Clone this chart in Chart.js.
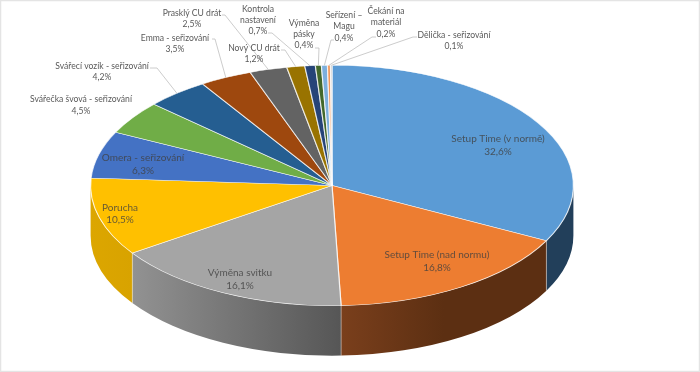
<!DOCTYPE html>
<html>
<head>
<meta charset="utf-8">
<title>Setup Time</title>
<script src="https://cdn.jsdelivr.net/npm/chart.js@4"></script>
<style>
  html, body { margin: 0; padding: 0; background: #fff; }
  canvas { display: block; filter: blur(0.3px); }
</style>
</head>
<body>
<canvas id="pieChart" width="700" height="372"></canvas>
<script>
const categories = [
  ["Setup Time (v normě)"],
  ["Setup Time (nad normu)"],
  ["Výměna svitku"],
  ["Porucha"],
  ["Omera - seřizování"],
  ["Svářečka švová - seřizování"],
  ["Svářecí vozík - seřizování"],
  ["Emma - seřizování"],
  ["Prasklý CU drát"],
  ["Nový CU drát"],
  ["Kontrola", "nastavení"],
  ["Výměna", "pásky"],
  ["Seřízení –", "Magu"],
  ["Čekání na", "materiál"],
  ["Dělička - seřizování"]
];
const shares = [32.6, 16.8, 16.1, 10.5, 6.3, 4.5, 4.2, 3.5, 2.5, 1.2, 0.7, 0.4, 0.4, 0.2, 0.1];

const sliceColors = [
  "#5B9BD5", "#ED7D31", "#A5A5A5", "#FFC000", "#4472C4",
  "#70AD47", "#255E91", "#9E480E", "#636363", "#997300",
  "#264478", "#43682B", "#7CAFDD", "#F1975A", "#B7B7B7"
];

// side wall colours, left to right, only the four front slices show a wall
const wallColors = {
  0: ["#223F5A", "#223F5A"],
  1: ["#7A3F1C", "#5C2F12", "#5C2F12"],
  2: ["#929292", "#565656"],
  3: ["#DCA600", "#D8A300"]
};

// centre x and first line y of each label
const labelX = [498, 437, 240, 120, 143, 81, 102, 175, 192, 254, 258, 304, 344, 386, 454];
const labelY = [139, 255, 273, 208, 158, 99.5, 66, 38, 13, 48, 9, 23, 15, 11, 35];
const lineGap = [13, 13, 13, 12, 13, 11.5, 11, 11, 11, 11, 11, 11, 11.5, 11.5, 11];

// leader line start and elbow, null where the label has no leader
const leaders = [
  null, null, null, null, null, null,
  [150, 68, 157, 68],
  [212, 39, 215, 39],
  [222, 15, 225, 15],
  [281, 50, 285, 50],
  [268, 33, 272, 33],
  [315, 48, 319, 48],
  [334, 40, 331, 40],
  [376, 37, 372, 37],
  [417, 37, 413, 37]
];

const wallDepth = 50;

function percentText(value) {
  return value.toFixed(1).replace(".", ",") + "%";
}

function stretchOf(chart) {
  return chart.chartArea.width / chart.chartArea.height;
}

// Wall under the front half of the pie, built from the arc angles
function drawWalls(chart) {
  const ctx = chart.ctx;
  const stretch = stretchOf(chart);
  chart.getDatasetMeta(0).data.forEach((arc, i) => {
    const from = Math.max(arc.startAngle, 0);
    const to = Math.min(arc.endAngle, Math.PI);
    if (!wallColors[i] || from >= to) return;
    const rx = arc.outerRadius * stretch;
    const ry = arc.outerRadius;
    const x0 = arc.x + rx * Math.cos(to);
    const x1 = arc.x + rx * Math.cos(from);
    const grad = ctx.createLinearGradient(x0, 0, x1, 0);
    const stops = wallColors[i];
    stops.forEach((c, n) => grad.addColorStop(n / (stops.length - 1), c));

    ctx.beginPath();
    ctx.ellipse(arc.x, arc.y, rx, ry, 0, from, to);
    ctx.ellipse(arc.x, arc.y + wallDepth, rx, ry, 0, to, from, true);
    ctx.closePath();
    ctx.fillStyle = grad;
    ctx.fill();

    // light seam where the slice starts
    if (from > 0) {
      const sx = arc.x + rx * Math.cos(from);
      const sy = arc.y + ry * Math.sin(from);
      ctx.beginPath();
      ctx.moveTo(sx, sy);
      ctx.lineTo(sx, sy + wallDepth);
      ctx.strokeStyle = "rgba(255,255,255,0.4)";
      ctx.lineWidth = 1;
      ctx.stroke();
    }
  });
}

function drawLabels(chart) {
  const ctx = chart.ctx;
  const stretch = stretchOf(chart);
  const arcs = chart.getDatasetMeta(0).data;

  ctx.strokeStyle = "#BFBFBF";
  ctx.lineWidth = 0.8;
  leaders.forEach((leader, i) => {
    if (!leader) return;
    const arc = arcs[i];
    const mid = (arc.startAngle + arc.endAngle) / 2;
    ctx.beginPath();
    ctx.moveTo(leader[0], leader[1]);
    ctx.lineTo(leader[2], leader[3]);
    ctx.lineTo(arc.x + arc.outerRadius * stretch * Math.cos(mid), arc.y + arc.outerRadius * Math.sin(mid));
    ctx.stroke();
  });

  ctx.textAlign = "center";
  ctx.textBaseline = "middle";
  categories.forEach((lines, i) => {
    const inside = i < 5;
    ctx.font = inside ? "10px Lato" : "8.6px Lato";
    ctx.fillStyle = inside ? "rgba(64,64,64,0.8)" : "#595959";
    const all = lines.concat(percentText(shares[i]));
    all.forEach((line, n) => ctx.fillText(line, labelX[i], labelY[i] + n * lineGap[i]));
  });
}

// Squashes the round pie into the flat ellipse and adds the 3D wall
const flatPie = {
  id: "flatPie",
  beforeDatasetsDraw(chart) {
    drawWalls(chart);
    const ctx = chart.ctx;
    const cx = chart.getDatasetMeta(0).data[0].x;
    ctx.save();
    ctx.translate(cx, 0);
    ctx.scale(stretchOf(chart), 1);
    ctx.translate(-cx, 0);
  },
  afterDatasetsDraw(chart) {
    chart.ctx.restore();
    drawLabels(chart);
    const ctx = chart.ctx;
    ctx.strokeStyle = "#E4E4E4";
    ctx.lineWidth = 1.5;
    ctx.strokeRect(0.5, 0.5, chart.width - 1, chart.height - 1);
  }
};

new Chart(document.getElementById("pieChart"), {
  type: "pie",
  data: {
    labels: categories,
    datasets: [{
      data: shares,
      backgroundColor: sliceColors,
      borderColor: "rgba(255,255,255,0.75)",
      borderWidth: 0.6,
      clip: false
    }]
  },
  options: {
    responsive: false,
    animation: false,
    events: [],
    layout: { padding: { left: 90, right: 126, top: 65, bottom: 66 } },
    plugins: { legend: { display: false }, tooltip: { enabled: false } }
  },
  plugins: [flatPie]
});
</script>
</body>
</html>
